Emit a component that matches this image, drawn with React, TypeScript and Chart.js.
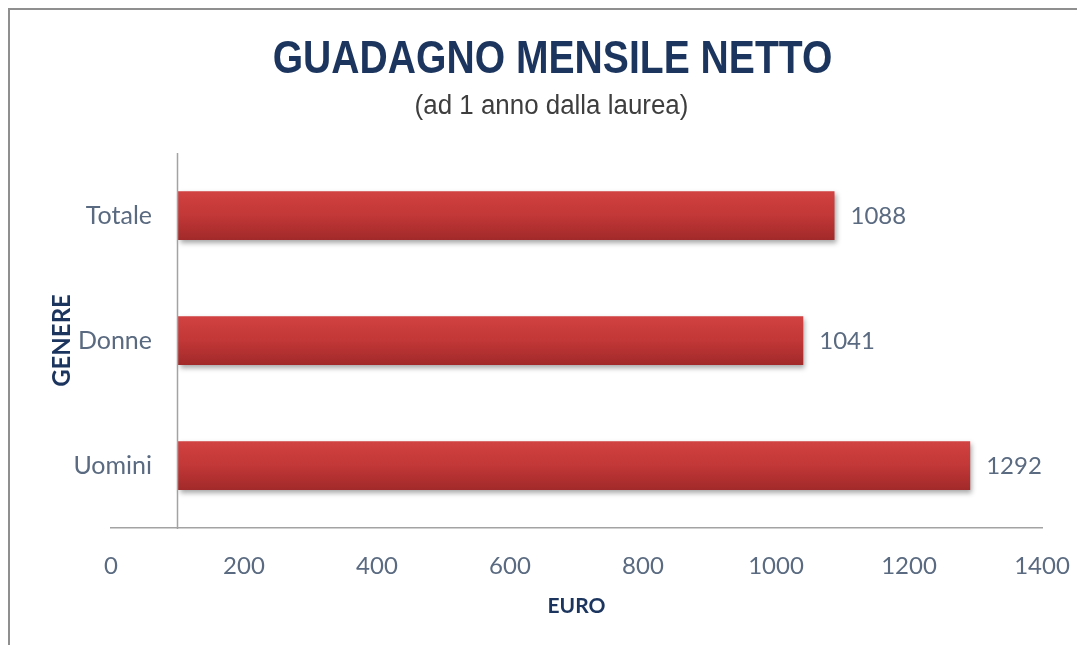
import React, { useEffect, useRef } from "react";
import { Chart, registerables } from "chart.js";

Chart.register(...registerables);

const categories = ["Totale", "Donne", "Uomini"];
const earnings = [1088, 1041, 1292];
const xTicks = [0, 200, 400, 600, 800, 1000, 1200, 1400];
const barBase = 100;
const titleText = "GUADAGNO MENSILE NETTO";
const subtitleText = "(ad 1 anno dalla laurea)";
const yTitleText = "GENERE";
const xTitleText = "EURO";

const labelColor = "#5a6a80";
const navy = "#1c355e";
const axisColor = "#a3a3a3";
const sansFamily = "Lato, 'Open Sans', sans-serif";
const arialFamily = "'Liberation Sans', Arial, sans-serif";
const catFontSize = 25;
const catRightOffset = 41; // label right edge distance from the value-0 position

const W = 1075;
const H = 635;

const headingPlugin = {
  id: "heading",
  afterDraw(chart: any) {
    const { ctx } = chart;
    const cx = 542.5;
    ctx.save();
    ctx.fillStyle = navy;
    ctx.textAlign = "center";
    ctx.textBaseline = "alphabetic";
    ctx.font = `bold 46px ${arialFamily}`;
    ctx.translate(cx, 63);
    ctx.scale(0.85, 1);
    ctx.fillText(titleText, 0, 0);
    ctx.restore();

    ctx.save();
    ctx.fillStyle = "#3e3e3e";
    ctx.textAlign = "center";
    ctx.textBaseline = "alphabetic";
    ctx.font = `normal 27px ${arialFamily}`;
    ctx.translate(cx - 1, 104);
    ctx.scale(0.96, 1);
    ctx.fillText(subtitleText, 0, 0);
    ctx.restore();
  },
};

const baseLinePlugin = {
  id: "baseLine",
  afterDraw(chart: any) {
    const { ctx, chartArea, scales } = chart;
    const x = scales.x.getPixelForValue(barBase);
    ctx.save();
    ctx.strokeStyle = axisColor;
    ctx.lineWidth = 1.5;
    ctx.beginPath();
    ctx.moveTo(x, chartArea.top);
    ctx.lineTo(x, chartArea.bottom + 1);
    ctx.stroke();
    ctx.restore();
  },
};

const shadowPlugin = {
  id: "barShadow",
  beforeDatasetsDraw(chart: any) {
    const ctx = chart.ctx;
    ctx.save();
    ctx.shadowColor = "rgba(0,0,0,0.35)";
    ctx.shadowBlur = 5;
    ctx.shadowOffsetX = 2;
    ctx.shadowOffsetY = 3;
  },
  afterDatasetsDraw(chart: any) {
    chart.ctx.restore();
  },
};

const valueLabelPlugin = {
  id: "valueLabels",
  afterDatasetsDraw(chart: any) {
    const { ctx } = chart;
    const meta = chart.getDatasetMeta(0);
    ctx.save();
    ctx.font = `24px ${sansFamily}`;
    ctx.fillStyle = labelColor;
    ctx.textAlign = "left";
    ctx.textBaseline = "middle";
    meta.data.forEach((bar: any, i: number) => {
      ctx.fillText(String(earnings[i]), bar.x + 16, bar.y + 1);
    });
    ctx.restore();
  },
};

function widestCategory(): number {
  const c = document.createElement("canvas").getContext("2d");
  if (!c) return 70;
  c.font = `normal normal ${catFontSize}px ${sansFamily}`;
  return Math.max(...categories.map((t) => c.measureText(t).width));
}

export default function App() {
  const canvasRef = useRef<HTMLCanvasElement | null>(null);

  useEffect(() => {
    document.body.style.overflow = "hidden";
    const canvas = canvasRef.current;
    if (!canvas) return;
    const widest = widestCategory();
    const chart = new Chart(canvas, {
      type: "bar",
      data: {
        labels: categories,
        datasets: [
          {
            data: earnings,
            base: barBase,
            barPercentage: 0.39,
            categoryPercentage: 1,
            borderWidth: 0,
            backgroundColor: (c: any) => {
              const ch = c.chart;
              const y = ch.scales && ch.scales.y;
              if (!ch.chartArea || !y || c.dataIndex === undefined) return "#c03535";
              const center = y.getPixelForValue(c.dataIndex);
              const g = ch.ctx.createLinearGradient(0, center - 25, 0, center + 25);
              g.addColorStop(0, "#d24242");
              g.addColorStop(0.5, "#c23737");
              g.addColorStop(1, "#a12929");
              return g;
            },
          } as any,
        ],
      },
      options: {
        indexAxis: "y",
        animation: false,
        responsive: false,
        layout: { padding: { left: 0, right: 43, top: 143, bottom: 0 } },
        plugins: {
          legend: { display: false },
          tooltip: { enabled: false },
          title: { display: false },
          subtitle: { display: false },
        },
        scales: {
          x: {
            type: "linear",
            min: xTicks[0],
            max: xTicks[xTicks.length - 1],
            afterBuildTicks: (s: any) => {
              s.ticks = xTicks.map((v) => ({ value: v }));
            },
            afterFit: (s: any) => {
              s.height = 117;
              s.paddingRight = 0;
              s.paddingLeft = 0;
            },
            grid: { display: false, drawTicks: false },
            border: { display: true, color: axisColor, width: 1.5 },
            ticks: {
              color: labelColor,
              font: { family: sansFamily, size: 24 },
              padding: 24,
              callback: (v: any) => String(v),
            },
            title: {
              display: true,
              text: xTitleText,
              color: navy,
              font: { family: sansFamily, size: 21, weight: "bold", lineHeight: 1.2 },
              padding: { top: 0, bottom: 26 },
            },
          },
          y: {
            type: "category",
            afterFit: (s: any) => {
              s.width = 101;
            },
            grid: { display: false, drawTicks: false },
            border: { display: false },
            ticks: {
              color: labelColor,
              font: { family: sansFamily, size: catFontSize },
              mirror: true,
              crossAlign: "far",
              padding: catRightOffset - widest,
            },
            title: {
              display: true,
              text: yTitleText,
              color: navy,
              font: { family: sansFamily, size: 24, weight: "bold", lineHeight: 1.2 },
              padding: { top: 38, bottom: 0 },
            },
          },
        },
      } as any,
      plugins: [shadowPlugin, baseLinePlugin, valueLabelPlugin, headingPlugin],
    });
    return () => chart.destroy();
  }, []);

  return (
    <div
      style={{
        width: W + 2,
        height: H + 2,
        boxSizing: "border-box",
        borderTop: "2px solid #8f8f8f",
        borderLeft: "2px solid #8f8f8f",
        background: "#ffffff",
        overflow: "hidden",
      }}
    >
      <canvas ref={canvasRef} width={W} height={H} style={{ display: "block" }} />
    </div>
  );
}
